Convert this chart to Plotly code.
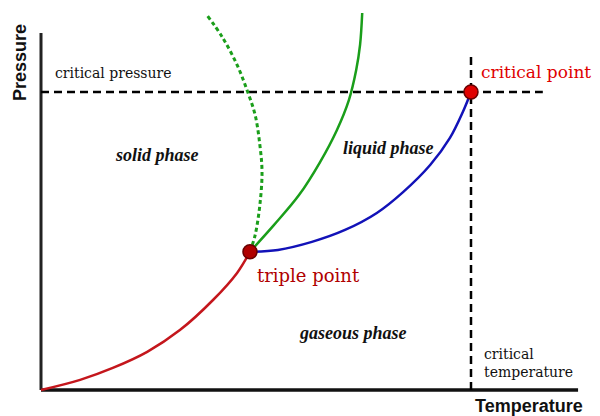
import plotly.graph_objects as go

# ---- data (arbitrary units: temperature T, pressure P) ----
sub_T = [0, 9.1, 16.7, 24.7, 32.3, 40.0, 45.6, 48.6]
sub_P = [0, 3.4, 7.4, 12.8, 20.1, 30.2, 39.3, 46.4]

vap_T = [48.6, 55.1, 63.0, 70.7, 78.1, 84.2, 90.5, 95.1, 98.1, 100]
vap_P = [46.4, 47.0, 49.7, 53.7, 59.4, 66.4, 75.5, 84.6, 93.3, 100]

melt_T = [48.6, 54.2, 60.0, 64.9, 68.8, 71.6, 73.3, 74.2, 74.7]
melt_P = [46.4, 55.4, 65.4, 76.5, 87.2, 97.3, 107.4, 115.8, 126.5]

melt2_T = [48.6, 49.8, 50.9, 51.4, 50.9, 49.8, 47.9, 45.6, 42.3, 38.6]
melt2_P = [46.4, 52.0, 62.1, 73.2, 82.2, 92.3, 100.7, 109.1, 118.1, 125.8]

triple_T, triple_P = 48.6, 46.4
crit_T, crit_P = 100, 100

axis_T_max, axis_P_max = 124.9, 119.8
crit_P_line_end = 116.7
crit_T_line_end = 113.1

fig = go.Figure()

fig.add_trace(go.Scatter(x=sub_T, y=sub_P, mode="lines", line=dict(color="#c4161c", width=2.5, shape="spline")))
fig.add_trace(go.Scatter(x=vap_T, y=vap_P, mode="lines", line=dict(color="#1212b8", width=2.5, shape="spline")))
fig.add_trace(go.Scatter(x=melt_T, y=melt_P, mode="lines", line=dict(color="#1a9e1a", width=2.5, shape="spline")))
fig.add_trace(go.Scatter(x=melt2_T, y=melt2_P, mode="lines", line=dict(color="#1a9e1a", width=3, shape="spline", dash="4px,3px")))
fig.add_trace(go.Scatter(x=[triple_T, crit_T], y=[triple_P, crit_P], mode="markers",
                         marker=dict(size=14, color=["#b00000", "#e00000"], line=dict(color="#6a0000", width=1.5))))

# axes drawn as lines
fig.add_shape(type="line", x0=0, y0=0, x1=axis_T_max, y1=0, line=dict(color="#111", width=3.5), layer="below")
fig.add_shape(type="line", x0=0, y0=0, x1=0, y1=axis_P_max, line=dict(color="#222", width=3), layer="below")
# critical dashed lines
fig.add_shape(type="line", x0=0, y0=crit_P, x1=crit_P_line_end, y1=crit_P,
              line=dict(color="#000", width=2.5, dash="8px,5px"), layer="below")
fig.add_shape(type="line", x0=crit_T, y0=0, x1=crit_T, y1=crit_T_line_end,
              line=dict(color="#000", width=2.5, dash="8px,5px"), layer="below")

serif = "DejaVu Serif"
ital = "Liberation Serif"

def ann(text, x, y, size, color="#111", family=serif, xanchor="center", **kw):
    fig.add_annotation(x=x, y=y, text=text, showarrow=False, xanchor=xanchor, yanchor="middle",
                       font=dict(size=size, color=color, family=family), **kw)

ann("critical pressure", 2.8, 106.4, 14, xanchor="left")
ann("<b><i>solid phase</i></b>", 27.0, 78.9, 18, family=ital)
ann("<b><i>liquid phase</i></b>", 80.7, 81.2, 18, family=ital)
ann("<b><i>gaseous phase</i></b>", 72.6, 19.1, 18, family=ital)
ann("critical point", 101.9, 106.7, 17, color="#e00000", xanchor="left")
ann("triple point", 49.8, 38.3, 18, color="#b00000", xanchor="left")
ann("critical<br>temperature", 102.6, 9.1, 14, xanchor="left", align="left")
ann("<b>Temperature</b>", 113.5, -5.4, 18, family="Liberation Sans")
ann("<b>Pressure</b>", -4.88, 109.7, 18, family="Liberation Sans", textangle=-90)

# page body has an 8px margin: ranges are offset so the drawing lands where the reference has it
fig.update_layout(
    width=600, height=416, autosize=False,
    margin=dict(l=0, r=0, t=0, b=0),
    paper_bgcolor="white", plot_bgcolor="white",
    showlegend=False,
    xaxis=dict(range=[-7.674, 131.86], visible=False, fixedrange=True),
    yaxis=dict(range=[-11.41, 128.19], visible=False, fixedrange=True),
)

fig.write_html("out.html")
